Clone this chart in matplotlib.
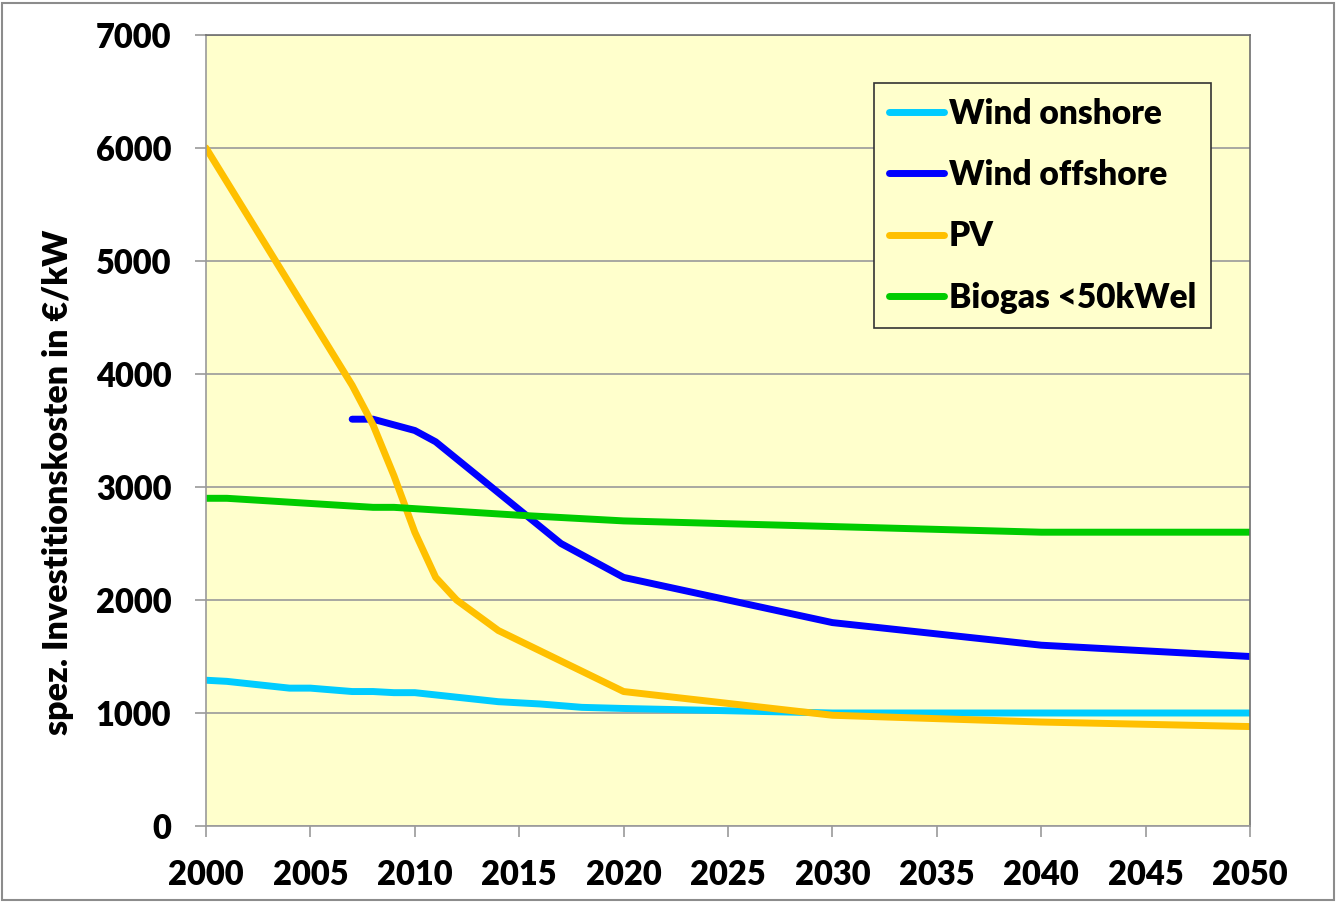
import matplotlib
matplotlib.use("Agg")
import matplotlib.pyplot as plt
from matplotlib.patches import Rectangle

plt.rcParams['font.family'] = ['Lato', 'DejaVu Sans']
plt.rcParams['font.weight'] = 'bold'

# Specific investment costs in EUR/kW
years_onshore = [2000, 2001, 2004, 2005, 2007, 2008, 2009, 2010, 2012, 2014, 2016, 2018, 2020, 2030, 2040, 2050]
wind_onshore = [1290, 1280, 1220, 1220, 1190, 1190, 1180, 1180, 1140, 1100, 1080, 1050, 1040, 1000, 1000, 1000]

years_offshore = [2007, 2008, 2010, 2011, 2013, 2015, 2017, 2020, 2025, 2030, 2040, 2050]
wind_offshore = [3600, 3600, 3500, 3400, 3100, 2800, 2500, 2200, 2000, 1800, 1600, 1500]

years_pv = [2000, 2007, 2008, 2009, 2010, 2011, 2012, 2014, 2020, 2030, 2040, 2050]
pv = [6000, 3900, 3550, 3100, 2600, 2200, 2000, 1730, 1190, 980, 920, 880]

years_biogas = [2000, 2001, 2008, 2009, 2015, 2020, 2030, 2040, 2050]
biogas = [2900, 2900, 2820, 2820, 2750, 2700, 2650, 2600, 2600]

x_ticks = list(range(2000, 2051, 5))
y_ticks = list(range(0, 7001, 1000))

W, H = 1337, 902
fig = plt.figure(figsize=(W / 100, H / 100), dpi=100)
fig.patch.set_facecolor('white')
fig.patches.append(Rectangle((2 / W, 2 / H), 1 - 5 / W, 1 - 5 / H, transform=fig.transFigure,
                             fill=False, edgecolor='#8c8c8c', linewidth=1.5))

ax = fig.add_axes([206 / W, 1 - 826 / H, (1250 - 206) / W, (826 - 35) / H])
ax.set_facecolor('#FFFFCC')

lw = 5.0
ax.plot(years_onshore, wind_onshore, color='#00CCFF', lw=lw, solid_capstyle='round', label='Wind onshore')
ax.plot(years_offshore, wind_offshore, color='#0000FF', lw=lw, solid_capstyle='round', label='Wind offshore')
ax.plot(years_pv, pv, color='#FFC000', lw=lw, solid_capstyle='round', label='PV')
ax.plot(years_biogas, biogas, color='#00CC00', lw=lw, solid_capstyle='round', label='Biogas <50kWel')

ax.set_xlim(2000, 2050)
ax.set_ylim(0, 7000)
ax.set_xticks(x_ticks)
ax.set_yticks(y_ticks)
ax.yaxis.grid(True, color='#9a9a9a', linewidth=1.2)
ax.set_axisbelow(True)

for side in ['left', 'bottom']:
    ax.spines[side].set_color('#9a9a9a')
    ax.spines[side].set_linewidth(1.2)
for side in ['top', 'right']:
    ax.spines[side].set_color('#6e6e6e')
    ax.spines[side].set_linewidth(1.2)

ax.tick_params(axis='both', direction='out', length=8, width=1.2, color='#9a9a9a',
               labelsize=23.5, labelcolor='black')
ax.tick_params(axis='y', pad=17)
ax.tick_params(axis='x', pad=16)
for lab in ax.get_xticklabels() + ax.get_yticklabels():
    lab.set_fontweight('heavy')

ax.set_ylabel('spez. Investitionskosten in €/kW', fontsize=24.5, fontweight='heavy', va='center')
ax.yaxis.set_label_coords((58 - 206) / (1250 - 206), (826 - 482) / (826 - 35))

leg = ax.legend(loc='upper left', bbox_to_anchor=((874 - 206) / (1250 - 206), 1 - (83 - 35) / (826 - 35)),
                frameon=True, fancybox=False, edgecolor='#333333', facecolor='#FFFFCC', framealpha=1,
                prop={'size': 24, 'weight': 'heavy'}, handlelength=1.65, handletextpad=0.15,
                labelspacing=0.88, borderpad=0.44, borderaxespad=0)
leg.get_frame().set_linewidth(1.2)

fig.savefig('out.png', dpi=100, facecolor='white')
